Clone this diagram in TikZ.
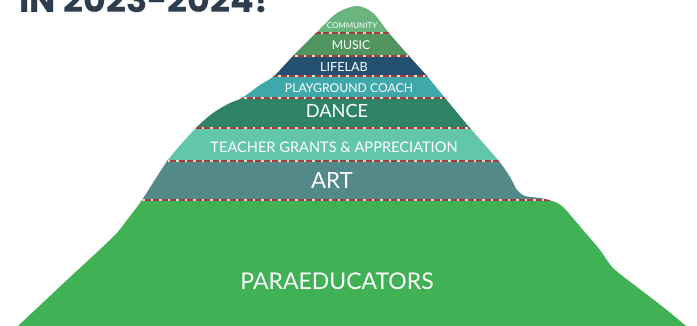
\documentclass[tikz,border=0pt]{standalone}
\usepackage{fontspec}
\setmainfont{Lato}
\newfontfamily\titlefont{Poppins}
\definecolor{ccomm}{HTML}{69B57D}
\definecolor{cmusic}{HTML}{50945F}
\definecolor{clife}{HTML}{23506F}
\definecolor{cplay}{HTML}{3FA8AA}
\definecolor{cdance}{HTML}{2E8367}
\definecolor{cteach}{HTML}{62C6AA}
\definecolor{cart}{HTML}{538A89}
\definecolor{cpara}{HTML}{41B156}
\definecolor{csep}{HTML}{A83A3C}
\definecolor{csepl}{HTML}{DCE8D4}
\definecolor{ctitle}{HTML}{2D3D4E}
\newcommand\mtnoutline{plot[smooth,tension=0.5] coordinates {(14,330) (18,326) (67,280) (113,237) (127,220) (142,200) (168,160) (195,129) (213,113) (230,103) (242,98) (260,85) (274,76) (293,56) (316,33) (337,13) (357,6) (373,13) (389,33) (409,56) (427,76) (445,98) (470,128) (498,160) (510,177) (517,190) (525,196) (540,198) (552,201) (563,207) (583,230) (600,250) (613,268) (637,287) (663,307) (686,326) (690,330)} -- cycle}
\begin{document}
\begin{tikzpicture}[x=1pt,y=-1pt,
  sepbase/.style={csepl, line width=1.6pt},
  sepdash/.style={csep, line width=1.6pt, dash pattern=on 6pt off 2.5pt},
  lbl/.style={text=white, inner sep=0pt, anchor=base}]
\clip (0,0) rectangle (697,326);
\fill[white] (0,0) rectangle (697,326);
\node[anchor=base west, inner sep=0pt, text=ctitle] (title) at (19,12.5)
  {\titlefont\bfseries\fontsize{35}{35}\selectfont IN 2023-2024!};
\begin{scope}
\clip \mtnoutline;
\fill[ccomm]  (0,0)   rectangle (697,33);
\fill[cmusic] (0,33)  rectangle (697,56);
\fill[clife]  (0,56)  rectangle (697,76);
\fill[cplay]  (0,76)  rectangle (697,98);
\fill[cdance] (0,98)  rectangle (697,128);
\fill[cteach] (0,128) rectangle (697,161);
\fill[cart]   (0,161) rectangle (697,200);
\fill[cpara]  (0,200) rectangle (697,330);
\foreach \yy in {33,56,76,98,128,161,200} {
  \draw[sepbase] (0,\yy) -- (697,\yy);
  \draw[sepdash] (0,\yy) -- (697,\yy);
}
\end{scope}
\node[lbl] (community) at (352,28.5) {\fontsize{8}{8}\selectfont COMMUNITY};
\node[lbl] (music) at (351,49.3) {\fontsize{12.2}{12}\selectfont MUSIC};
\node[lbl] (lifelab) at (344,71.5) {\fontsize{12.6}{12}\selectfont LIFELAB};
\node[lbl] (playground) at (349,92.7) {\fontsize{12.2}{12}\selectfont PLAYGROUND COACH};
\node[lbl] (dance) at (337,118) {\fontsize{18.2}{18}\selectfont DANCE};
\node[lbl] (teacher) at (334,152.3) {\fontsize{14.6}{15}\selectfont TEACHER GRANTS \& APPRECIATION};
\node[lbl] (art) at (332,189) {\fontsize{22.3}{22}\selectfont ART};
\node[lbl] (para) at (337,290) {\fontsize{23}{23}\selectfont PARAEDUCATORS};
\end{tikzpicture}
\end{document}
